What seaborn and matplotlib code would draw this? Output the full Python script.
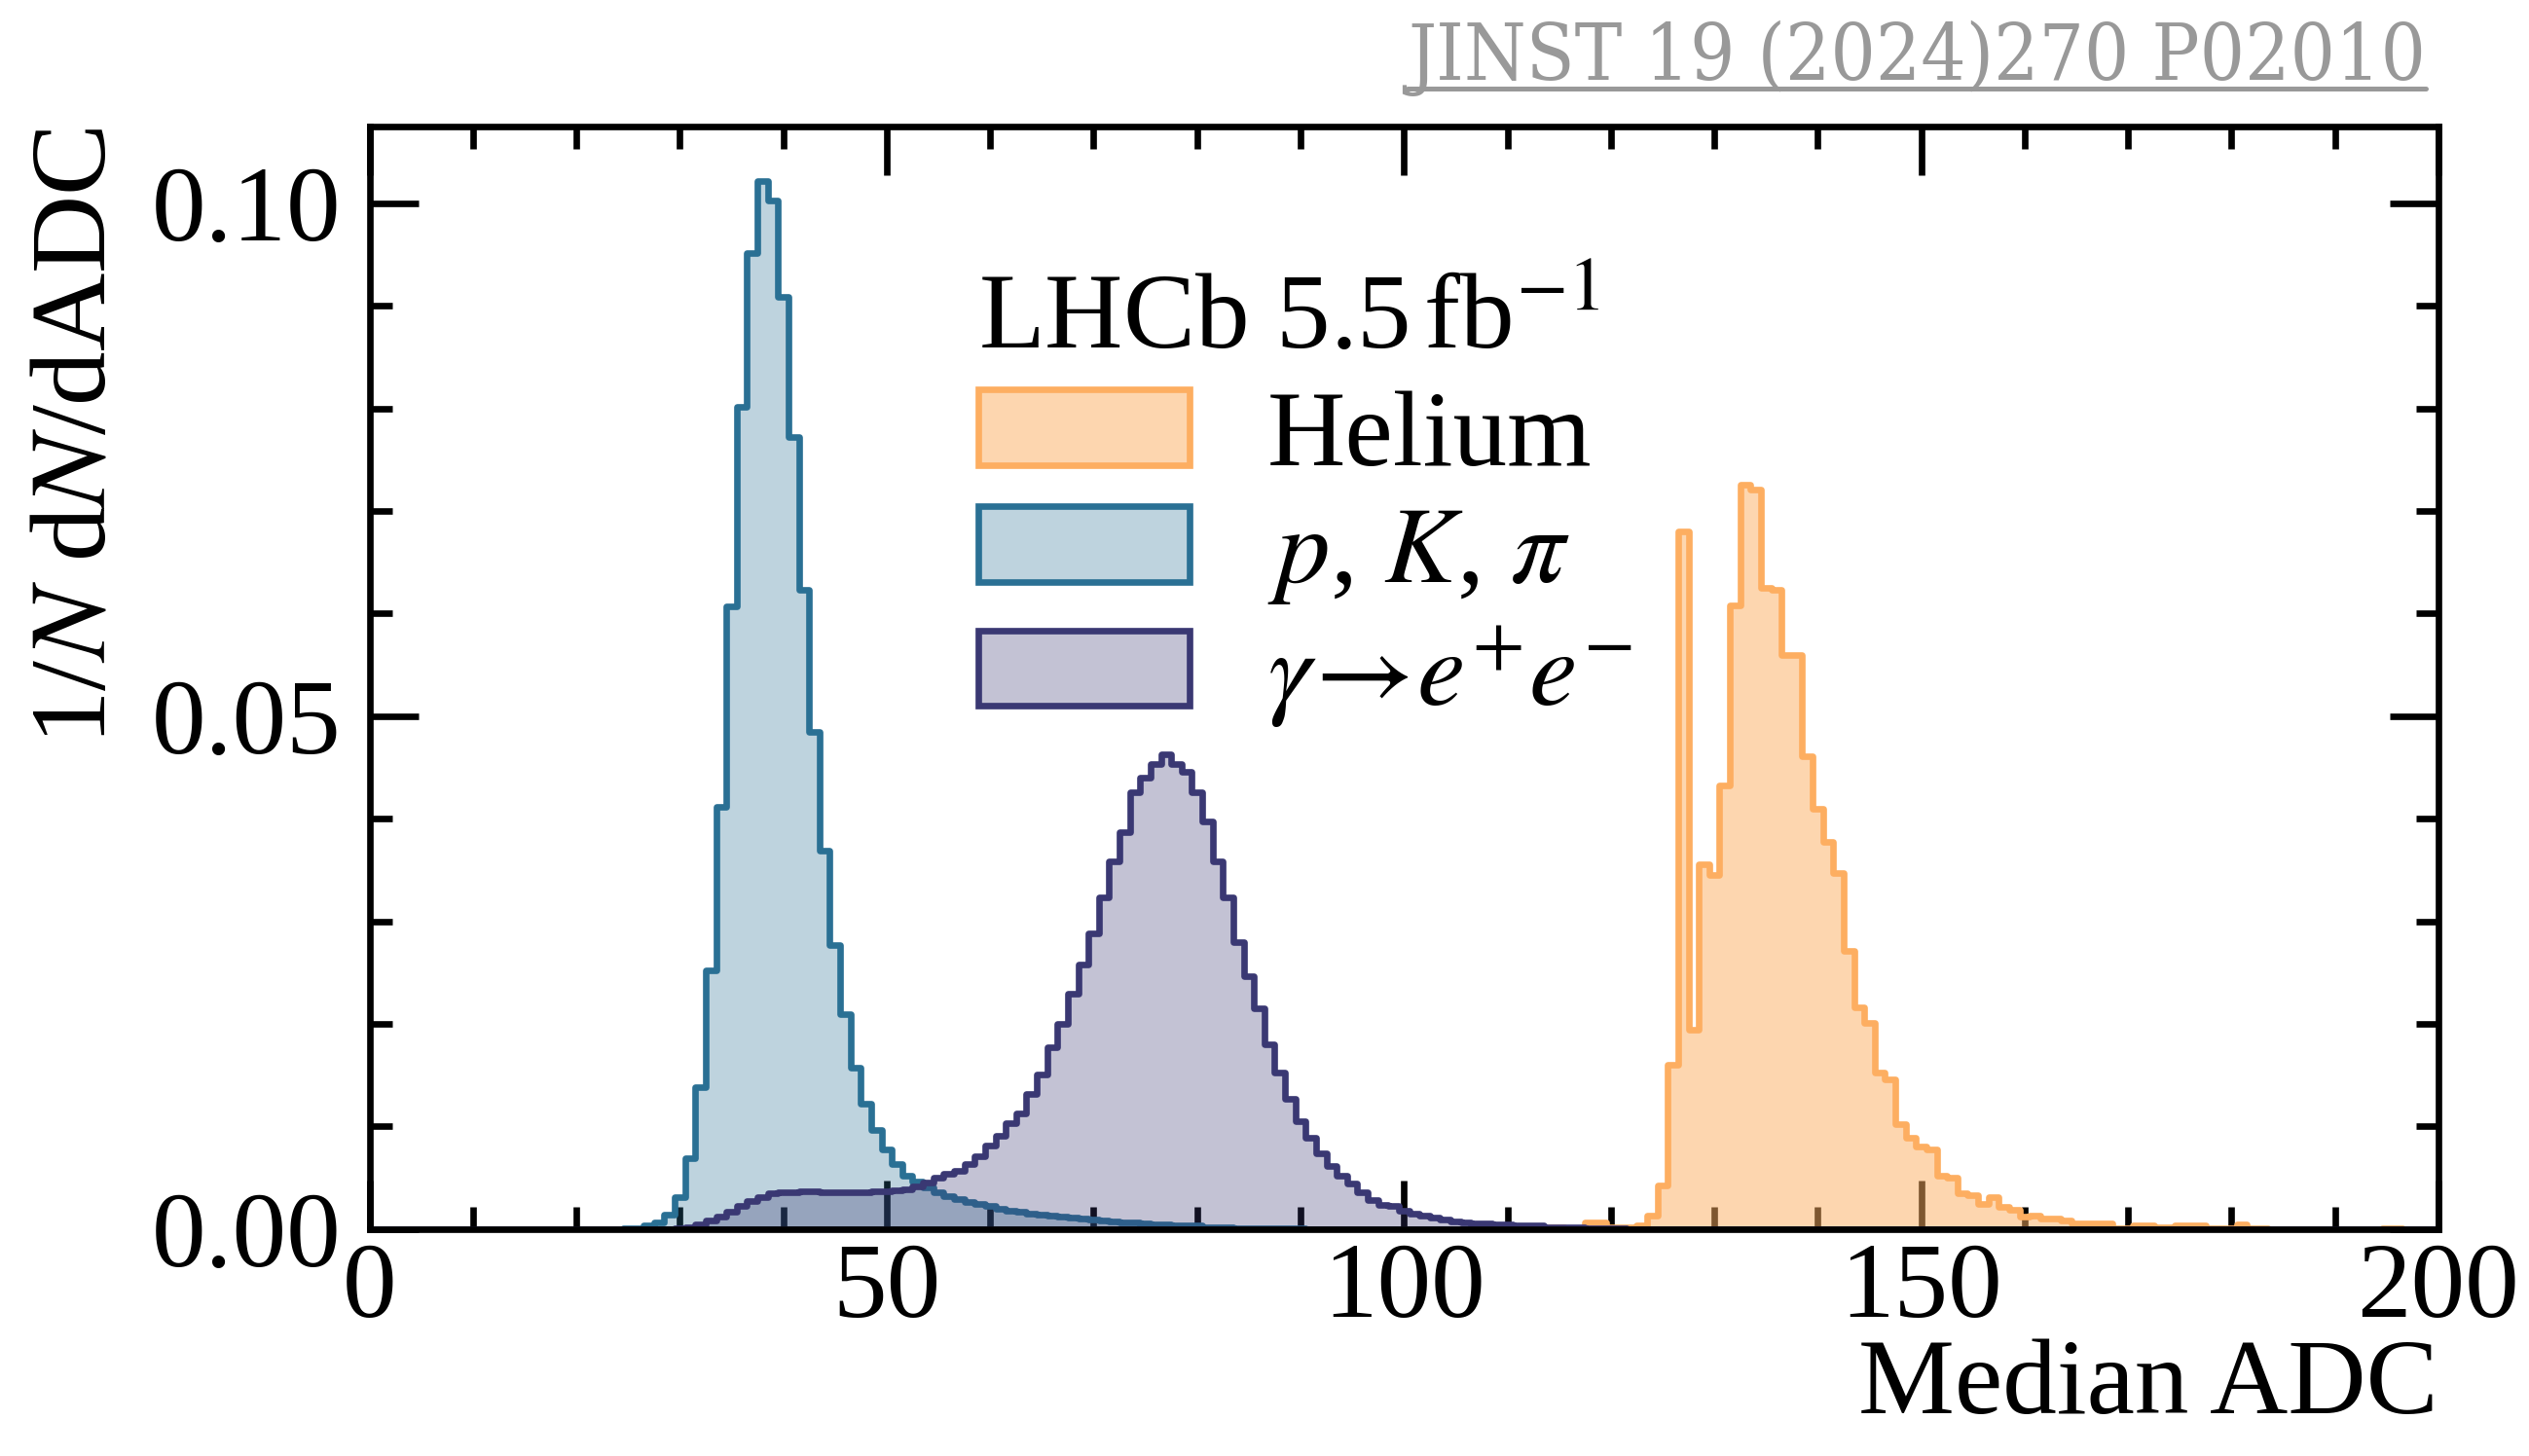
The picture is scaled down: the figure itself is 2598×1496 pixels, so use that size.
import numpy as np
import pandas as pd
import matplotlib
matplotlib.use("Agg")
import matplotlib.pyplot as plt
import seaborn as sns
from matplotlib.ticker import FixedLocator, FixedFormatter, MultipleLocator
from matplotlib.lines import Line2D

# ---------------- data (normalised counts per 1-ADC bin, bins centred on 0..199) ----------
bin_centers = np.arange(0, 200)

helium = ([0.0] * 114 +
          [0.0002, 0.0002, 0.0001, 0.0001, 0.0006, 0.0006, 0.0002, 0.0002, 0.0002, 0.0003,   # 114-123
           0.0013, 0.0042, 0.0160, 0.0680, 0.0194, 0.0356, 0.0345, 0.0432, 0.0608, 0.0726,   # 124-133
           0.0721, 0.0625, 0.0623, 0.0560, 0.0560, 0.0461, 0.0410, 0.0377, 0.0347, 0.0271,   # 134-143
           0.0216, 0.0201, 0.0152, 0.0146, 0.0102, 0.0089, 0.0080, 0.0077, 0.0052, 0.0050,   # 144-153
           0.0035, 0.0033, 0.0024, 0.0031, 0.0021, 0.0019, 0.0012, 0.0013, 0.0010, 0.0010,   # 154-163
           0.0008, 0.0005, 0.0005, 0.0005, 0.0005, 0.0001, 0.0001, 0.0003, 0.0003, 0.0002,   # 164-173
           0.0002, 0.0003, 0.0003, 0.0003, 0.0001, 0.0001, 0.0001, 0.0004, 0.0001, 0.0001]   # 174-183
          + [0.0] * 11 + [0.0001, 0.0001, 0.0, 0.0, 0.0])                                  # 184-199

hadrons = ([0.0] * 25 +
           [0.00005, 0.0001, 0.0003, 0.0006, 0.0014,                                         # 25-29
            0.0031, 0.0069, 0.0138, 0.0252, 0.0412, 0.0607, 0.0802, 0.0952, 0.1022, 0.1003,  # 30-39
            0.0909, 0.0772, 0.0623, 0.0485, 0.0369, 0.0277, 0.0209, 0.0157, 0.0122, 0.0096,  # 40-49
            0.0077, 0.0063, 0.0052, 0.0046, 0.0040, 0.0036, 0.0032, 0.0029, 0.0026, 0.0024,  # 50-59
            0.0022, 0.0020, 0.0018, 0.0017, 0.0015, 0.0014, 0.0013, 0.0012, 0.0011, 0.0010,  # 60-69
            0.0009, 0.0008, 0.0007, 0.0006, 0.0006, 0.0005, 0.0004, 0.0004, 0.0003, 0.0003,  # 70-79
            0.0003, 0.0002, 0.0002, 0.0002, 0.0001, 0.0001, 0.0001, 0.0001, 0.0001, 0.0001,  # 80-89
            0.0001]                                                                          # 90
           + [0.0] * 109)

conversions = ([0.0] * 30 +
               [0.0001, 0.0002, 0.0004, 0.0008, 0.0012, 0.0017, 0.0022, 0.0027, 0.0031, 0.0035,  # 30-39
                0.0036, 0.0036, 0.0037, 0.0037, 0.0036, 0.0036, 0.0036, 0.0036, 0.0036, 0.0037,  # 40-49
                0.0037, 0.0038, 0.0039, 0.0041, 0.0045, 0.0050, 0.0054, 0.0057, 0.0063, 0.0071,  # 50-59
                0.0081, 0.0091, 0.0103, 0.0113, 0.0132, 0.0151, 0.0177, 0.0200, 0.0229, 0.0258,  # 60-69
                0.0288, 0.0323, 0.0358, 0.0387, 0.0426, 0.0440, 0.0453, 0.0463, 0.0453, 0.0446,  # 70-79
                0.0426, 0.0397, 0.0358, 0.0323, 0.0280, 0.0246, 0.0215, 0.0180, 0.0152, 0.0127,  # 80-89
                0.0105, 0.0089, 0.0074, 0.0061, 0.0052, 0.0044, 0.0036, 0.0028, 0.0023, 0.0022,  # 90-99
                0.0018, 0.0015, 0.0013, 0.0011, 0.0009, 0.0007, 0.0006, 0.0005, 0.0005, 0.0004,  # 100-109
                0.0004, 0.0003, 0.0003, 0.0003, 0.0002, 0.0002, 0.0002, 0.0002, 0.0001, 0.0001,  # 110-119
                0.0001, 0.0001]                                                                  # 120-121
               + [0.0] * 78)

series_labels = ["Helium", r"$p$, $K$, $\pi$", r"$\gamma\!\rightarrow\! e^{+}e^{-}$"]
legend_title = r"LHCb 5.5$\,$fb$^{-1}$"
x_label = "Median ADC"
y_label = r"1/$N$ d$N$/dADC"
x_ticks = [0, 50, 100, 150, 200]
x_tick_labels = ["0", "50", "100", "150", "200"]
y_ticks = [0.00, 0.05, 0.10]
y_tick_labels = ["0.00", "0.05", "0.10"]
watermark = "JINST 19 (2024)270 P02010"

# ---------------- style ----------------
sns.set_style("ticks")
plt.rcParams["font.family"] = ["Liberation Serif", "DejaVu Serif"]
plt.rcParams["mathtext.fontset"] = "stix"
for k in ["text.color", "axes.labelcolor", "xtick.color", "ytick.color", "axes.edgecolor"]:
    plt.rcParams[k] = "black"

edge_colors = ["#fdae61", "#2a7094", "#3a3873"]
face_colors = [(0.992, 0.682, 0.380, 0.5), (0.165, 0.439, 0.580, 0.3), (0.227, 0.220, 0.451, 0.3)]

W, H = 2598, 1496
fig = plt.figure(figsize=(W / 200, H / 200), dpi=200)
ax = fig.add_axes([0.1461, 0.156, 0.8181, 0.7571])

for vals, lab, ec, fc in zip([helium, hadrons, conversions], series_labels, edge_colors, face_colors):
    df = pd.DataFrame({"adc": bin_centers, "density": vals})
    sns.histplot(data=df, x="adc", weights="density", binwidth=1, binrange=(-0.5, 199.5),
                 element="step", fill=True, stat="count", ax=ax, label=lab,
                 facecolor=fc, edgecolor=ec, linewidth=2.4)

ax.set_xlim(0, 200)
ax.set_ylim(0, 0.1075)

ax.xaxis.set_major_locator(FixedLocator(x_ticks))
ax.xaxis.set_major_formatter(FixedFormatter(x_tick_labels))
ax.xaxis.set_minor_locator(MultipleLocator(10))
ax.yaxis.set_major_locator(FixedLocator(y_ticks))
ax.yaxis.set_major_formatter(FixedFormatter(y_tick_labels))
ax.yaxis.set_minor_locator(MultipleLocator(0.01))

ax.tick_params(which="both", direction="in", top=True, right=True, width=2.4,
               colors="black", labelsize=40)
ax.tick_params(which="major", length=18)
ax.tick_params(which="minor", length=8.3)
ax.tick_params(axis="x", which="major", pad=5)
ax.tick_params(axis="y", which="major", pad=10.5)
for sp in ax.spines.values():
    sp.set_linewidth(2.4)
    sp.set_color("black")
    sp.set_visible(True)

ax.set_xlabel(x_label, fontsize=40, loc="right", color="black")
ax.xaxis.set_label_coords(1.0, -0.10)
ax.xaxis.label.set_va("top")
ax.set_ylabel(y_label, fontsize=40, loc="top", color="black")
ax.yaxis.set_label_coords(-0.117, 1.0)

leg = ax.legend(title=legend_title, loc="upper left", bbox_to_anchor=(0.2944, 0.866),
                frameon=False, fontsize=40, title_fontsize=40, handlelength=1.95,
                handleheight=0.7, handletextpad=0.72, labelspacing=0.17,
                borderaxespad=0, borderpad=0, alignment="left")
leg.get_title().set_color("black")
for t in leg.get_texts():
    t.set_color("black")

# watermark: condensed slab-serif look, fitted to the reference width
wm = fig.text(2492 / W, 1 - 82 / H, watermark, ha="right", va="baseline", color="#999999",
              fontsize=28, family="DejaVu Serif", fontstretch="condensed")
fig.canvas.draw()
target_w = 2492 - 1446
cur_w = wm.get_window_extent().width
wm.set_fontsize(28 * target_w / cur_w)
fig.canvas.draw()
bb = wm.get_window_extent().transformed(fig.transFigure.inverted())
fig.add_artist(Line2D([bb.x0, bb.x1], [1 - 90.5 / H, 1 - 90.5 / H], transform=fig.transFigure,
                      color="#999999", linewidth=1.8))

fig.savefig("out.png", dpi=200)
